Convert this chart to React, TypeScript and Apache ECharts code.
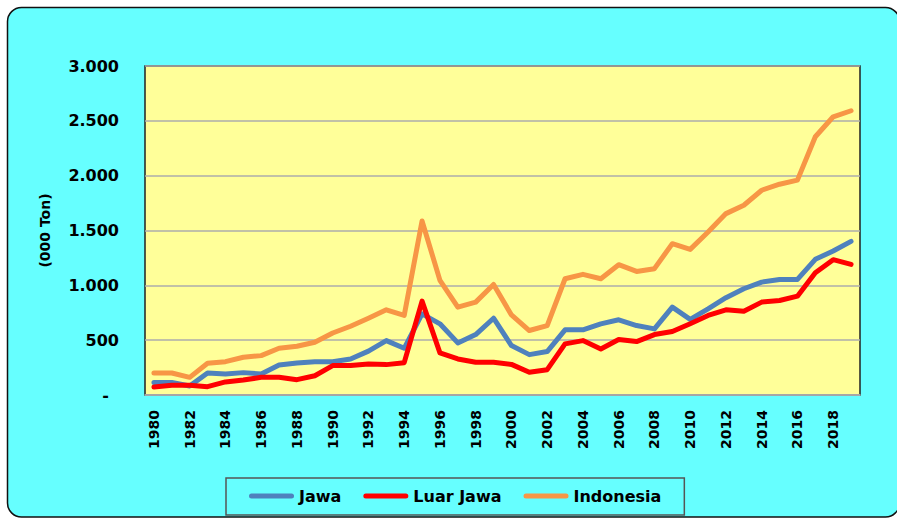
import React, { useEffect, useRef } from "react";
import * as echarts from "echarts";

const years: string[] = [
  "1980","1981","1982","1983","1984","1985","1986","1987","1988","1989",
  "1990","1991","1992","1993","1994","1995","1996","1997","1998","1999",
  "2000","2001","2002","2003","2004","2005","2006","2007","2008","2009",
  "2010","2011","2012","2013","2014","2015","2016","2017","2018","2019",
];

const jawa: number[] = [
  115, 115, 82, 201, 192, 204, 192, 274, 292, 304,
  304, 329, 400, 496, 426, 740, 649, 475, 551, 700,
  451, 368, 396, 594, 594, 649, 686, 633, 603, 801,
  690, 786, 887, 969, 1029, 1054, 1054, 1237, 1313, 1401,
];

const luarJawa: number[] = [
  73, 88, 88, 76, 119, 137, 161, 161, 140, 176,
  268, 268, 283, 277, 295, 856, 384, 329, 298, 298,
  279, 207, 231, 466, 496, 420, 506, 487, 551, 579,
  650, 725, 777, 764, 847, 862, 901, 1115, 1234, 1191,
];

const indonesia: number[] = [
  201, 201, 161, 289, 304, 344, 359, 426, 444, 481,
  565, 627, 700, 777, 725, 1587, 1045, 801, 847, 1008,
  730, 588, 633, 1060, 1100, 1060, 1188, 1127, 1152, 1380,
  1328, 1486, 1654, 1730, 1867, 1922, 1959, 2355, 2537, 2592,
];

const seriesNames: string[] = ["Jawa", "Luar Jawa", "Indonesia"];
const seriesColors: string[] = ["#4F81BD", "#FF0000", "#F79646"];
const yAxisName = "(000 Ton)";

const FONT = "'DejaVu Sans', Verdana, sans-serif";
const LEGEND_ICON =
  "path://M2.5,0 L42.5,0 A2.5,2.5 0 0 1 42.5,5 L2.5,5 A2.5,2.5 0 0 1 2.5,0 Z";

function fmtY(v: number): string {
  if (v === 0) return "{d|-}";
  return String(v).replace(/\B(?=(\d{3})+(?!\d))/g, ".");
}

export default function App() {
  const ref = useRef<HTMLDivElement>(null);

  useEffect(() => {
    if (!ref.current) return;
    const chart = echarts.init(ref.current, null, { renderer: "svg" });
    const datasets = [jawa, luarJawa, indonesia];
    chart.setOption({
      animation: false,
      backgroundColor: "#ffffff",
      graphic: [
        {
          type: "rect",
          z: -10,
          silent: true,
          shape: { x: 7.5, y: 7.5, width: 892, height: 509.5, r: 14 },
          style: { fill: "#66FFFF", stroke: "#111", lineWidth: 1.5 },
        },
      ],
      grid: {
        left: 145,
        top: 66,
        right: 37,
        bottom: 123,
        show: true,
        backgroundColor: "#FFFF99",
        borderColor: "#222",
        borderWidth: 1.5,
      },
      legend: {
        data: seriesNames.map((n) => ({ name: n, icon: LEGEND_ICON })),
        left: 226,
        top: 478,
        padding: [10, 23, 11, 23],
        itemGap: 22,
        itemWidth: 45,
        itemHeight: 5,
        borderColor: "#555",
        borderWidth: 1.5,
        borderRadius: 0,
        textStyle: {
          fontFamily: FONT,
          fontWeight: "bold",
          fontSize: 16,
          color: "#000",
        },
      },
      xAxis: {
        type: "category",
        data: years,
        boundaryGap: true,
        axisLine: { show: true, lineStyle: { color: "#ADADAD", width: 1.5 } },
        axisTick: { show: false },
        axisLabel: {
          interval: 1,
          rotate: 90,
          margin: 15,
          fontFamily: FONT,
          fontWeight: "bold",
          fontSize: 14,
          color: "#000",
        },
        splitLine: { show: false },
      },
      yAxis: {
        type: "value",
        min: 0,
        max: 3000,
        interval: 500,
        name: yAxisName,
        nameLocation: "middle",
        nameGap: 93,
        nameRotate: 90,
        nameTextStyle: {
          fontFamily: FONT,
          fontWeight: "bold",
          fontSize: 14,
          color: "#000",
        },
        axisLine: { show: false },
        axisTick: { show: false },
        axisLabel: {
          margin: 26,
          fontFamily: FONT,
          fontWeight: "bold",
          fontSize: 16,
          color: "#000",
          formatter: fmtY,
          rich: {
            d: {
              fontFamily: FONT,
              fontWeight: "bold",
              fontSize: 16,
              color: "#000",
              padding: [0, 10, 0, 0],
            },
          },
        },
        splitLine: { show: true, lineStyle: { color: "#ADADAD", width: 1.5 } },
      },
      series: seriesNames.map((name, i) => ({
        name,
        type: "line",
        data: datasets[i],
        symbol: "none",
        smooth: false,
        color: seriesColors[i],
        itemStyle: { color: seriesColors[i] },
        lineStyle: {
          color: seriesColors[i],
          width: 5,
          cap: "round",
          join: "round",
        },
      })),
    });
    return () => chart.dispose();
  }, []);

  return (
    <div
      ref={ref}
      style={{ position: "fixed", left: 0, top: 0, width: 897, height: 518 }}
    />
  );
}
